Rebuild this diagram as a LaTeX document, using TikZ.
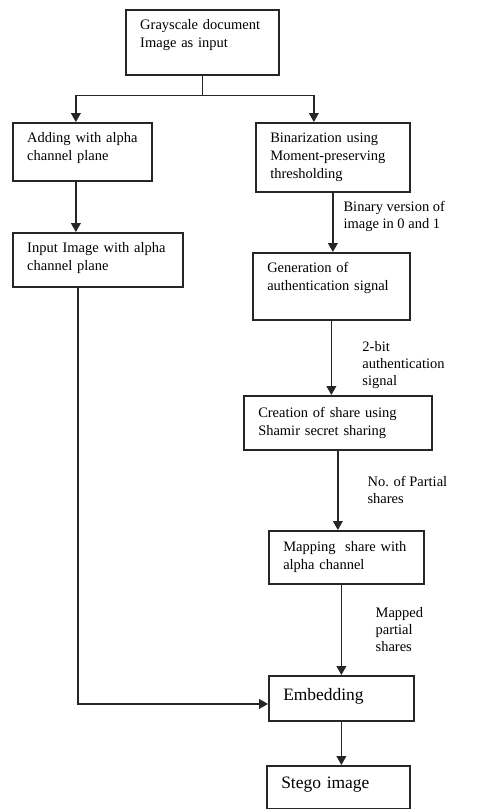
\documentclass[tikz,border=0pt]{standalone}
\usepackage{fontspec}
\setmainfont{Liberation Serif}
\usepackage{tikz}
\usetikzlibrary{calc,positioning,arrows.meta}
\tikzset{
  blk/.style={draw=black!85,line width=1.2pt,anchor=north west,align=left,inner xsep=0.36cm,inner ysep=0pt,font=\fontsize{10.3}{12.8}\selectfont},
  bigblk/.style={blk,font=\fontsize{12.4}{14}\selectfont},
  ln/.style={draw=black!85,line width=1pt},
  arr/.style={ln,-{Triangle[length=0.22cm,width=0.24cm]}},
  lbl/.style={align=left,anchor=west,inner sep=0pt,font=\fontsize{10.3}{12.2}\selectfont}
}
\begin{document}
\begin{tikzpicture}[x=0.025cm,y=-0.025cm]
\useasboundingbox (0,0) rectangle (502,809);
% input image, split into two branches
\node[blk,text width=3.105cm,minimum height=1.625cm,text depth=25.6pt] (gray) at (125,9) {Grayscale document\\Image as input};
\node[blk,text width=2.755cm,minimum height=1.45cm,text depth=20.6pt] (add) at (12,122) {Adding with alpha\\channel plane};
\node[blk,text width=3.13cm,minimum height=1.725cm,text depth=28.4pt] (bin) at (255,122) {Binarization using\\Moment-preserving\\thresholding};
\draw[ln] (gray.south) -- ++(0,20) coordinate (split);
\draw[arr] (split) -| ([xshift=-0.1625cm]add.north);
\draw[arr] (split) -| ([xshift=-0.475cm]bin.north);
% left branch
\node[blk,text width=3.53cm,minimum height=1.35cm,text depth=17.8pt] (inp) at (12,232) {Input Image with alpha\\channel plane};
\draw[arr] ([xshift=-0.1625cm]add.south) -- ([xshift=-0.1625cm]add.south |- inp.north);
% right branch
\node[blk,text width=3.205cm,minimum height=1.675cm,text depth=27.1pt] (gen) at (252,252) {Generation of\\authentication signal};
\node[blk,text width=3.98cm,minimum height=1.35cm,text depth=15pt] (cre) at (243,395) {Creation of share using\\Shamir secret sharing};
\node[blk,text width=3.155cm,minimum height=1.325cm,text depth=15.6pt] (map) at (268,530) {Mapping~ share with\\alpha channel};
\node[bigblk,text width=2.905cm,minimum height=1.125cm,text depth=5pt] (emb) at (268,675) {Embedding};
\node[bigblk,text width=2.855cm,minimum height=1.075cm,text depth=6.5pt] (ste) at (266,765) {Stego image};
\draw[arr] (bin.south) -- node[lbl,pos=0.4,xshift=0.25cm] (lbin) {Binary version of\\image in 0 and 1} (bin.south |- gen.north);
\draw[arr] (gen.south) -- node[lbl,pos=0.6,xshift=0.76cm] (lgen) {2-bit\\authentication\\signal} (gen.south |- cre.north);
\draw[arr] (cre.south) -- node[lbl,pos=0.5,xshift=0.725cm] (lcre) {No. of Partial\\shares} (cre.south |- map.north);
\draw[arr] (emb.north |- map.south) -- node[lbl,pos=0.5,xshift=0.84cm] (lmap) {Mapped\\partial\\shares} (emb.north);
% join and output
\draw[arr] ([xshift=-0.5cm]inp.south) |- ([yshift=-0.14cm]emb.west);
\draw[arr] (emb.south) -- (emb.south |- ste.north);
\end{tikzpicture}
\end{document}
